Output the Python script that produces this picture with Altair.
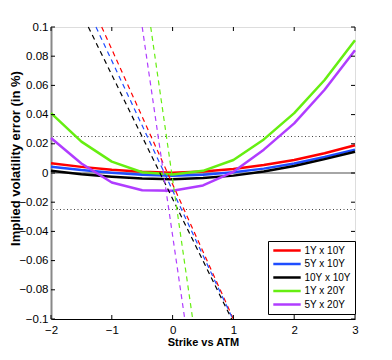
import altair as alt
import pandas as pd

# ---------------- data ----------------
x_nodes = [-2, -1.5, -1, -0.5, 0, 0.5, 1, 1.5, 2, 2.5, 3]
series = ["1Y x 10Y", "5Y x 10Y", "10Y x 10Y", "1Y x 20Y", "5Y x 20Y"]
colors = ["#ff0000", "#1f4dff", "#000000", "#66ee11", "#b03cff"]

err_1y10y = [0.0066, 0.0042, 0.0022, 0.0008, 0.0002, 0.0010, 0.0028, 0.0055, 0.0089, 0.0135, 0.0190]
err_5y10y = [0.0043, 0.0020, 0.0002, -0.0012, -0.0018, -0.0012, 0.0005, 0.0030, 0.0065, 0.0110, 0.0160]
err_10y10y = [0.0016, -0.0008, -0.0025, -0.0038, -0.0042, -0.0035, -0.0018, 0.0010, 0.0048, 0.0095, 0.0146]
err_1y20y = [0.0410, 0.0215, 0.0078, 0.0005, -0.0010, 0.0015, 0.0089, 0.0230, 0.0410, 0.0637, 0.0910]
err_5y20y = [0.0240, 0.0065, -0.0065, -0.0118, -0.0122, -0.0085, 0.0008, 0.0160, 0.0340, 0.0570, 0.0840]
solid_values = [err_1y10y, err_5y10y, err_10y10y, err_1y20y, err_5y20y]

# dashed straight lines: strike where each crosses the top / bottom of the plot
dash_y = [0.1, -0.1]
dash_x_top = [-1.166, -1.26, -1.386, -0.36, -0.5]
dash_x_bottom = [1.0, 0.99, 0.97, 0.33, 0.2]

x_ticks = [-2, -1, 0, 1, 2, 3]
y_ticks = [-0.1, -0.08, -0.06, -0.04, -0.02, 0, 0.02, 0.04, 0.06, 0.08, 0.1]
band_levels = [-0.025, 0.025]
zero_level = [0]

# ---------------- tables ----------------
rows = []
for name, vals in zip(series, solid_values):
    for x, v in zip(x_nodes, vals):
        rows.append({"strike": x, "err": v, "series": name})
solid_df = pd.DataFrame(rows)

drows = []
for name, col, xt, xb in zip(series, colors, dash_x_top, dash_x_bottom):
    drows.append({"strike": xt, "err": dash_y[0], "series": name, "col": col})
    drows.append({"strike": xb, "err": dash_y[1], "series": name, "col": col})
dash_df = pd.DataFrame(drows)

xt_df = pd.DataFrame({"t": x_ticks})
yt_df = pd.DataFrame({"t": y_ticks})
band_df = pd.DataFrame({"lvl": band_levels})
zero_df = pd.DataFrame({"lvl": zero_level})

W, H = 304, 292
TF = "Liberation Sans Narrow, Liberation Sans"

xscale = alt.Scale(domain=[-2, 3], nice=False, zero=False)
yscale = alt.Scale(domain=[-0.1, 0.1], nice=False, zero=False)

xaxis = alt.Axis(values=x_ticks, format="~g", tickSize=0, labelPadding=5,
                 labelOverlap=False, labelFlush=False,
                 domainColor="#000000", grid=False, title="Strike vs ATM",
                 labelFont=TF, labelFontSize=11.5, labelColor="#000",
                 titleFont=TF, titleFontSize=11, titleFontWeight="bold",
                 titleColor="#000", titleY=23, titleBaseline="middle")
yaxis = alt.Axis(values=y_ticks, format="~g", tickSize=0, labelPadding=3,
                 labelOverlap=False, labelFlush=False,
                 domainColor="#888888", domainWidth=2, grid=False,
                 title="Implied volatility error (in %)",
                 labelFont=TF, labelFontSize=11.5, labelColor="#000",
                 titleFont="Liberation Sans", titleFontSize=13, titleFontWeight="bold",
                 titleColor="#000", titleX=-36, titleY=131, titleBaseline="middle",
                 titleAlign="center")

X = lambda f: alt.X(f, scale=xscale, axis=xaxis, title="Strike vs ATM")
Y = lambda f: alt.Y(f, scale=yscale, axis=yaxis, title="Implied volatility error (in %)")

band = alt.Chart(band_df).mark_rule(color="#444444", strokeWidth=1, strokeDash=[1, 2.5]).encode(
    y=Y("lvl:Q")
)
zero = alt.Chart(zero_df).mark_rule(color="#888888", strokeWidth=1.5).encode(
    y=Y("lvl:Q")
)

solid = alt.Chart(solid_df).mark_line(strokeWidth=2.5, strokeJoin="round").encode(
    x=X("strike:Q"),
    y=Y("err:Q"),
    color=alt.Color("series:N",
                    scale=alt.Scale(domain=series, range=colors),
                    legend=alt.Legend(title=None, orient="none", legendX=217, legendY=214,
                                      symbolType="M-1.05,0H5.8", symbolSize=64,
                                      symbolStrokeWidth=2.5, labelOffset=21.5,
                                      rowPadding=2.5, padding=4,
                                      strokeColor="#000000", fillColor="#ffffff",
                                      labelFont="Liberation Sans", labelFontSize=10,
                                      labelColor="#000", labelLimit=120)),
    detail="series:N",
)

dashed = alt.Chart(dash_df).mark_line(strokeWidth=1.2, strokeDash=[5, 4]).encode(
    x=X("strike:Q"),
    y=Y("err:Q"),
    color=alt.Color("col:N", scale=None),
    detail="series:N",
)

tick_style = dict(color="#000000", strokeWidth=1)
xt_bottom = alt.Chart(xt_df).mark_rule(**tick_style).encode(
    x=X("t:Q"), y=alt.value(H - 4), y2=alt.value(H))
xt_top = alt.Chart(xt_df).mark_rule(**tick_style).encode(
    x=X("t:Q"), y=alt.value(0), y2=alt.value(4))
yt_left = alt.Chart(yt_df).mark_rule(**tick_style).encode(
    y=Y("t:Q"), x=alt.value(0), x2=alt.value(4))
yt_right = alt.Chart(yt_df).mark_rule(**tick_style).encode(
    y=Y("t:Q"), x=alt.value(W - 4), x2=alt.value(W))

chart = alt.layer(band, zero, solid, dashed, xt_bottom, xt_top, yt_left, yt_right).properties(
    width=W, height=H,
    autosize=alt.AutoSizeParams(type="none"),
    padding={"left": 43, "top": 19, "right": 20, "bottom": 28},
).configure_view(stroke="#555555", strokeWidth=1).configure_axis(
    labelOverlap=False, labelFlush=False
).configure(background="white")

chart.save("out.html", embed_options={"renderer": "svg", "actions": False})
